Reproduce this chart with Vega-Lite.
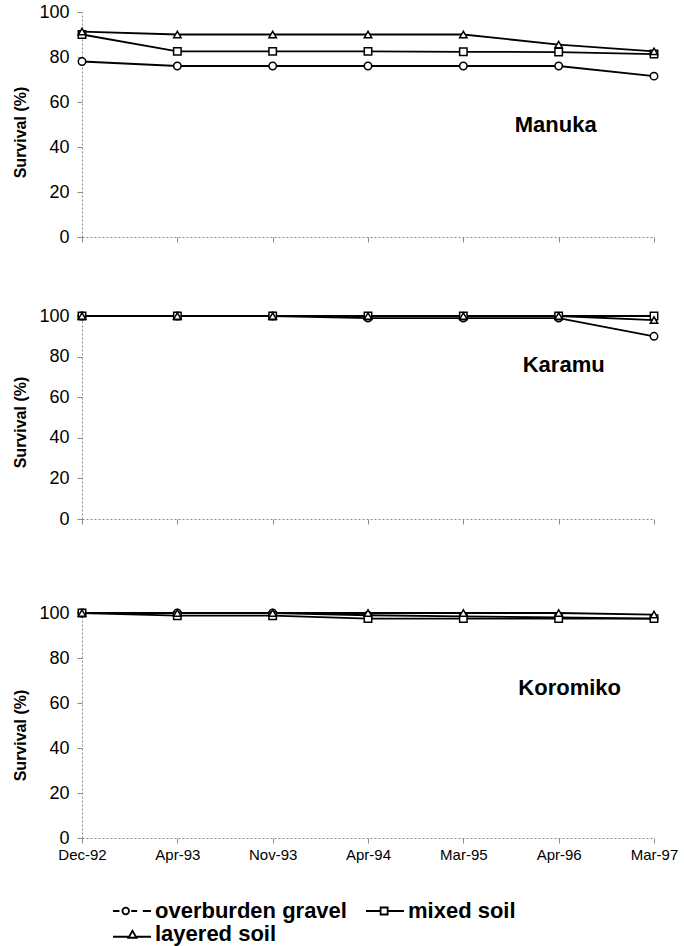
{
  "$schema": "https://vega.github.io/schema/vega-lite/v6.json",
  "background": "white",
  "padding": {"left": 12, "top": 3, "right": 5, "bottom": 2},
  "config": {
    "font": "Liberation Sans",
    "view": {"stroke": null},
    "axis": {
      "domainColor": "#8a8a8a",
      "domainDash": [2, 2],
      "domainWidth": 1,
      "tickColor": "#8a8a8a",
      "tickWidth": 1,
      "tickSize": 5,
      "grid": false,
      "labelColor": "black",
      "titleColor": "black"
    }
  },
  "datasets": {
    "survival": [
      {"species": "Manuka", "date": "Dec-92", "series": "overburden gravel", "value": 78},
      {"species": "Manuka", "date": "Apr-93", "series": "overburden gravel", "value": 76},
      {"species": "Manuka", "date": "Nov-93", "series": "overburden gravel", "value": 76},
      {"species": "Manuka", "date": "Apr-94", "series": "overburden gravel", "value": 76},
      {"species": "Manuka", "date": "Mar-95", "series": "overburden gravel", "value": 76},
      {"species": "Manuka", "date": "Apr-96", "series": "overburden gravel", "value": 76},
      {"species": "Manuka", "date": "Mar-97", "series": "overburden gravel", "value": 71.5},
      {"species": "Manuka", "date": "Dec-92", "series": "mixed soil", "value": 90},
      {"species": "Manuka", "date": "Apr-93", "series": "mixed soil", "value": 82.5},
      {"species": "Manuka", "date": "Nov-93", "series": "mixed soil", "value": 82.5},
      {"species": "Manuka", "date": "Apr-94", "series": "mixed soil", "value": 82.5},
      {"species": "Manuka", "date": "Mar-95", "series": "mixed soil", "value": 82.3},
      {"species": "Manuka", "date": "Apr-96", "series": "mixed soil", "value": 82.2},
      {"species": "Manuka", "date": "Mar-97", "series": "mixed soil", "value": 81.3},
      {"species": "Manuka", "date": "Dec-92", "series": "layered soil", "value": 91.3},
      {"species": "Manuka", "date": "Apr-93", "series": "layered soil", "value": 90},
      {"species": "Manuka", "date": "Nov-93", "series": "layered soil", "value": 90},
      {"species": "Manuka", "date": "Apr-94", "series": "layered soil", "value": 90},
      {"species": "Manuka", "date": "Mar-95", "series": "layered soil", "value": 90},
      {"species": "Manuka", "date": "Apr-96", "series": "layered soil", "value": 85.5},
      {"species": "Manuka", "date": "Mar-97", "series": "layered soil", "value": 82.5},
      {"species": "Karamu", "date": "Dec-92", "series": "overburden gravel", "value": 100},
      {"species": "Karamu", "date": "Apr-93", "series": "overburden gravel", "value": 100},
      {"species": "Karamu", "date": "Nov-93", "series": "overburden gravel", "value": 100},
      {"species": "Karamu", "date": "Apr-94", "series": "overburden gravel", "value": 99},
      {"species": "Karamu", "date": "Mar-95", "series": "overburden gravel", "value": 99},
      {"species": "Karamu", "date": "Apr-96", "series": "overburden gravel", "value": 99},
      {"species": "Karamu", "date": "Mar-97", "series": "overburden gravel", "value": 90},
      {"species": "Karamu", "date": "Dec-92", "series": "mixed soil", "value": 100},
      {"species": "Karamu", "date": "Apr-93", "series": "mixed soil", "value": 100},
      {"species": "Karamu", "date": "Nov-93", "series": "mixed soil", "value": 100},
      {"species": "Karamu", "date": "Apr-94", "series": "mixed soil", "value": 100},
      {"species": "Karamu", "date": "Mar-95", "series": "mixed soil", "value": 100},
      {"species": "Karamu", "date": "Apr-96", "series": "mixed soil", "value": 100},
      {"species": "Karamu", "date": "Mar-97", "series": "mixed soil", "value": 100},
      {"species": "Karamu", "date": "Dec-92", "series": "layered soil", "value": 100},
      {"species": "Karamu", "date": "Apr-93", "series": "layered soil", "value": 100},
      {"species": "Karamu", "date": "Nov-93", "series": "layered soil", "value": 100},
      {"species": "Karamu", "date": "Apr-94", "series": "layered soil", "value": 100},
      {"species": "Karamu", "date": "Mar-95", "series": "layered soil", "value": 100},
      {"species": "Karamu", "date": "Apr-96", "series": "layered soil", "value": 100},
      {"species": "Karamu", "date": "Mar-97", "series": "layered soil", "value": 98},
      {"species": "Koromiko", "date": "Dec-92", "series": "overburden gravel", "value": 100},
      {"species": "Koromiko", "date": "Apr-93", "series": "overburden gravel", "value": 100},
      {"species": "Koromiko", "date": "Nov-93", "series": "overburden gravel", "value": 100},
      {"species": "Koromiko", "date": "Apr-94", "series": "overburden gravel", "value": 99},
      {"species": "Koromiko", "date": "Mar-95", "series": "overburden gravel", "value": 98.5},
      {"species": "Koromiko", "date": "Apr-96", "series": "overburden gravel", "value": 98},
      {"species": "Koromiko", "date": "Mar-97", "series": "overburden gravel", "value": 97.5},
      {"species": "Koromiko", "date": "Dec-92", "series": "mixed soil", "value": 100},
      {"species": "Koromiko", "date": "Apr-93", "series": "mixed soil", "value": 98.8},
      {"species": "Koromiko", "date": "Nov-93", "series": "mixed soil", "value": 98.8},
      {"species": "Koromiko", "date": "Apr-94", "series": "mixed soil", "value": 97.5},
      {"species": "Koromiko", "date": "Mar-95", "series": "mixed soil", "value": 97.5},
      {"species": "Koromiko", "date": "Apr-96", "series": "mixed soil", "value": 97.5},
      {"species": "Koromiko", "date": "Mar-97", "series": "mixed soil", "value": 97.5},
      {"species": "Koromiko", "date": "Dec-92", "series": "layered soil", "value": 100},
      {"species": "Koromiko", "date": "Apr-93", "series": "layered soil", "value": 100},
      {"species": "Koromiko", "date": "Nov-93", "series": "layered soil", "value": 100},
      {"species": "Koromiko", "date": "Apr-94", "series": "layered soil", "value": 100},
      {"species": "Koromiko", "date": "Mar-95", "series": "layered soil", "value": 100},
      {"species": "Koromiko", "date": "Apr-96", "series": "layered soil", "value": 100},
      {"species": "Koromiko", "date": "Mar-97", "series": "layered soil", "value": 99.3}
    ],
    "labels": [
      {"species": "Manuka"},
      {"species": "Karamu"},
      {"species": "Koromiko"}
    ]
  },
  "vconcat": [
    {
      "spacing": 61,
      "resolve": {"scale": {"shape": "independent"}},
      "vconcat": [
        {
          "width": 572,
          "height": 225,
          "layer": [
            {
              "data": {"name": "survival"},
              "transform": [{"filter": "datum.species === 'Manuka'"}],
              "mark": {"type": "line", "color": "black", "strokeWidth": 1.8},
              "encoding": {
                "x": {"field": "date", "type": "ordinal", "scale": {"type": "point", "padding": 0, "domain": ["Dec-92", "Apr-93", "Nov-93", "Apr-94", "Mar-95", "Apr-96", "Mar-97"]}, "axis": {"title": null, "labels": false}},
                "y": {"field": "value", "type": "quantitative", "scale": {"domain": [0, 100], "nice": false}, "axis": {"title": "Survival (%)", "values": [0, 20, 40, 60, 80, 100], "labelFontSize": 18, "labelPadding": 8, "titleFontSize": 16, "titleFontWeight": "bold", "titleX": -54, "titleY": 120}},
                "detail": {"field": "series"}
              }
            },
            {
              "data": {"name": "survival"},
              "transform": [{"filter": "datum.species === 'Manuka'"}],
              "mark": {"type": "point", "filled": true, "fill": "white", "stroke": "black", "strokeWidth": 1.5, "opacity": 1, "size": 55},
              "encoding": {
                "x": {"field": "date", "type": "ordinal"},
                "y": {"field": "value", "type": "quantitative"},
                "shape": {"field": "series", "type": "nominal", "scale": {"domain": ["overburden gravel", "mixed soil", "layered soil"], "range": ["circle", "square", "triangle-up"]}, "legend": null}
              }
            },
            {
              "data": {"name": "labels"},
              "transform": [{"filter": "datum.species === 'Manuka'"}],
              "mark": {"type": "text", "fontWeight": "bold", "fontSize": 22, "color": "black", "dx": -3},
              "encoding": {
                "x": {"datum": "Apr-96", "type": "ordinal"},
                "y": {"datum": 50, "type": "quantitative"},
                "text": {"field": "species"}
              }
            }
          ]
        },
        {
          "width": 572,
          "height": 203,
          "layer": [
            {
              "data": {"name": "survival"},
              "transform": [{"filter": "datum.species === 'Karamu'"}],
              "mark": {"type": "line", "color": "black", "strokeWidth": 1.8},
              "encoding": {
                "x": {"field": "date", "type": "ordinal", "scale": {"type": "point", "padding": 0, "domain": ["Dec-92", "Apr-93", "Nov-93", "Apr-94", "Mar-95", "Apr-96", "Mar-97"]}, "axis": {"title": null, "labels": false}},
                "y": {"field": "value", "type": "quantitative", "scale": {"domain": [0, 100], "nice": false}, "axis": {"title": "Survival (%)", "values": [0, 20, 40, 60, 80, 100], "labelFontSize": 18, "labelPadding": 8, "titleFontSize": 16, "titleFontWeight": "bold", "titleX": -54, "titleY": 106}},
                "detail": {"field": "series"}
              }
            },
            {
              "data": {"name": "survival"},
              "transform": [{"filter": "datum.species === 'Karamu'"}],
              "mark": {"type": "point", "filled": true, "fill": "white", "stroke": "black", "strokeWidth": 1.5, "opacity": 1, "size": 55},
              "encoding": {
                "x": {"field": "date", "type": "ordinal"},
                "y": {"field": "value", "type": "quantitative"},
                "shape": {"field": "series", "type": "nominal", "scale": {"domain": ["overburden gravel", "mixed soil", "layered soil"], "range": ["circle", "square", "triangle-up"]}, "legend": null}
              }
            },
            {
              "data": {"name": "labels"},
              "transform": [{"filter": "datum.species === 'Karamu'"}],
              "mark": {"type": "text", "fontWeight": "bold", "fontSize": 22, "color": "black", "dx": 5},
              "encoding": {
                "x": {"datum": "Apr-96", "type": "ordinal"},
                "y": {"datum": 76, "type": "quantitative"},
                "text": {"field": "species"}
              }
            }
          ]
        }
      ]
    },
    {
      "width": 572,
      "height": 225,
      "resolve": {"scale": {"shape": "independent"}},
      "layer": [
        {
          "data": {"name": "survival"},
          "transform": [{"filter": "datum.species === 'Koromiko'"}],
          "mark": {"type": "line", "color": "black", "strokeWidth": 1.8},
          "encoding": {
            "x": {"field": "date", "type": "ordinal", "scale": {"type": "point", "padding": 0, "domain": ["Dec-92", "Apr-93", "Nov-93", "Apr-94", "Mar-95", "Apr-96", "Mar-97"]}, "axis": {"title": null, "labelAngle": 0, "labelFontSize": 15, "labelPadding": 4}},
            "y": {"field": "value", "type": "quantitative", "scale": {"domain": [0, 100], "nice": false}, "axis": {"title": "Survival (%)", "values": [0, 20, 40, 60, 80, 100], "labelFontSize": 18, "labelPadding": 8, "titleFontSize": 16, "titleFontWeight": "bold", "titleX": -54, "titleY": 122}},
            "detail": {"field": "series"}
          }
        },
        {
          "data": {"name": "survival"},
          "transform": [{"filter": "datum.species === 'Koromiko'"}],
          "mark": {"type": "point", "filled": true, "fill": "white", "stroke": "black", "strokeWidth": 1.5, "opacity": 1, "size": 55},
          "encoding": {
            "x": {"field": "date", "type": "ordinal"},
            "y": {"field": "value", "type": "quantitative"},
            "shape": {"field": "series", "type": "nominal", "scale": {"domain": ["overburden gravel", "mixed soil", "layered soil"], "range": ["circle", "square", "triangle-up"]}, "legend": null}
          }
        },
        {
          "data": {"name": "survival"},
          "transform": [{"filter": "false"}],
          "mark": {"type": "point", "filled": false, "color": "black", "strokeWidth": 1.8, "opacity": 1, "size": 484},
          "encoding": {
            "x": {"field": "date", "type": "ordinal"},
            "y": {"field": "value", "type": "quantitative"},
            "shape": {
              "field": "series",
              "type": "nominal",
              "scale": {
                "domain": ["overburden gravel", "mixed soil", "layered soil"],
                "range": [
                  "M-1.73,0L-1.14,0M-0.27,0A0.3,0.3 0 1,1 -0.87,0A0.3,0.3 0 1,1 -0.27,0M-0.07,0L0.47,0M0.98,0L1.73,0",
                  "M-1.73,0L-0.4,0M-0.4,-0.32L0.24,-0.32L0.24,0.32L-0.4,0.32ZM0.24,0L1.73,0",
                  "M-1.73,0.25L-0.3,0.25M-0.32,0.34L0.045,-0.3L0.41,0.34ZM0.39,0.25L1.73,0.25"
                ]
              },
              "legend": {
                "title": null,
                "orient": "none",
                "legendX": 38,
                "legendY": 286,
                "direction": "horizontal",
                "columns": 2,
                "padding": 0,
                "columnPadding": 15,
                "rowPadding": -4,
                "symbolSize": 484,
                "symbolStrokeWidth": 1.8,
                "symbolStrokeColor": "black",
                "symbolOpacity": 1,
                "labelOffset": 11,
                "labelFontSize": 22,
                "labelFontWeight": "bold",
                "labelColor": "black",
                "labelLimit": 400
              }
            }
          }
        },
        {
          "data": {"name": "labels"},
          "transform": [{"filter": "datum.species === 'Koromiko'"}],
          "mark": {"type": "text", "fontWeight": "bold", "fontSize": 22, "color": "black", "dx": 11},
          "encoding": {
            "x": {"datum": "Apr-96", "type": "ordinal"},
            "y": {"datum": 66.5, "type": "quantitative"},
            "text": {"field": "species"}
          }
        }
      ]
    }
  ],
  "spacing": 76,
  "resolve": {"scale": {"shape": "independent"}}
}
